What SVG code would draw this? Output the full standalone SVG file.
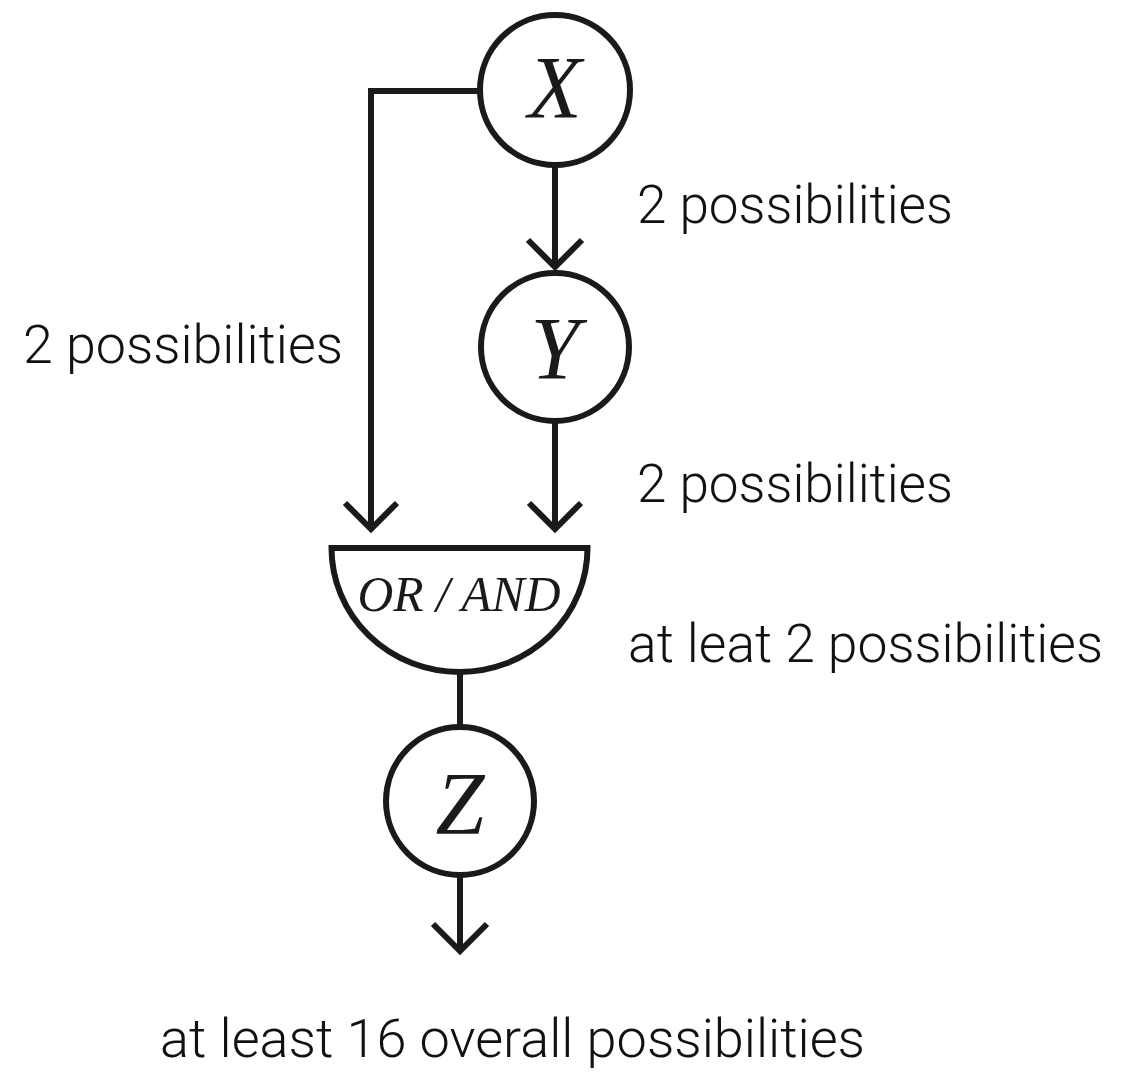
<svg xmlns="http://www.w3.org/2000/svg" width="1121" height="1074" viewBox="0 0 1121 1074">
<style>
.node{fill:#fff;stroke:#1a1a1a;stroke-width:6}
.var{font-family:"Liberation Serif","Times New Roman",serif;font-style:italic;font-weight:normal;fill:#1a1a1a;text-anchor:middle}
.edge{fill:none;stroke:#1a1a1a;stroke-width:6;stroke-linejoin:miter;stroke-linecap:butt}
.lbl{font-family:Roboto,"Liberation Sans",Arial,sans-serif;font-weight:300;font-size:53px;fill:#111}
</style>
<rect width="1121" height="1074" fill="#fff"/>
<g id="connectors">
  <path class="edge" d="M480 91 H371 V529"/>
  <path class="edge" d="M345 503 L371 529 L397 503"/>
  <path class="edge" d="M555 165 V267"/>
  <path class="edge" d="M528 240 L555 267 L582 240"/>
  <path class="edge" d="M555 420 V529"/>
  <path class="edge" d="M529 503 L555 529 L581 503"/>
  <path class="edge" d="M460 672 V727"/>
  <path class="edge" d="M460 875 V951"/>
  <path class="edge" d="M433 924 L460 951 L487 924"/>
</g>
<g id="node-X">
  <circle class="node" cx="555" cy="90" r="75"/>
  <text class="var" x="555" y="117" font-size="88">X</text>
</g>
<g id="node-Y">
  <circle class="node" cx="555" cy="347" r="74"/>
  <text class="var" x="555" y="378" font-size="88">Y</text>
</g>
<g id="node-gate">
  <path class="node" d="M331.5 548 H587.5 A128 124 0 0 1 331.5 548 Z"/>
  <text class="var" x="459" y="611" font-size="50" textLength="203" lengthAdjust="spacingAndGlyphs">OR / AND</text>
</g>
<g id="node-Z">
  <circle class="node" cx="460" cy="801" r="74"/>
  <text class="var" x="460" y="833" font-size="88">Z</text>
</g>
<g id="labels">
  <text class="lbl" x="637" y="223" textLength="316" lengthAdjust="spacingAndGlyphs">2 possibilities</text>
  <text class="lbl" x="23" y="363" textLength="320" lengthAdjust="spacingAndGlyphs">2 possibilities</text>
  <text class="lbl" x="637" y="502" textLength="316" lengthAdjust="spacingAndGlyphs">2 possibilities</text>
  <text class="lbl" x="628" y="662" textLength="475" lengthAdjust="spacingAndGlyphs">at leat 2 possibilities</text>
  <text class="lbl" x="160" y="1057" textLength="705" lengthAdjust="spacingAndGlyphs">at least 16 overall possibilities</text>
</g>
</svg>
